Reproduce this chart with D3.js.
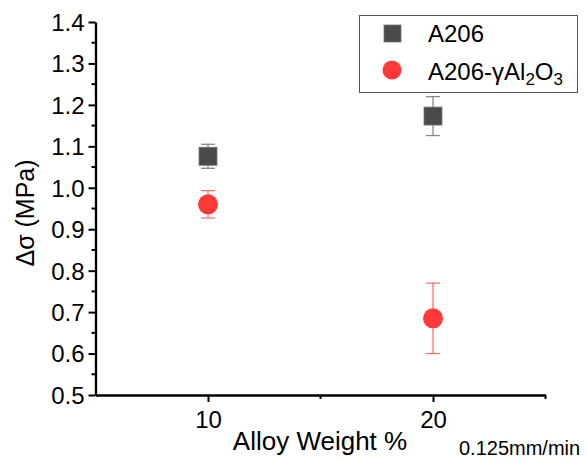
<!DOCTYPE html>
<html><head><meta charset="utf-8">
<script src="https://cdn.jsdelivr.net/npm/d3@7"></script>
<style>body{margin:0;background:#fff}svg{display:block;font-family:"Liberation Sans",Arial,sans-serif}</style>
</head><body><svg id="c" width="587" height="465"></svg>
<script>
const xValues = [10, 20];
const a206 = [1.076, 1.173];
const a206Err = [0.029, 0.047];
const a206Al = [0.960, 0.685];
const a206AlErr = [0.033, 0.085];
const yTicks = [0.5,0.6,0.7,0.8,0.9,1.0,1.1,1.2,1.3,1.4];
const xTicks = [10, 20];

const svg = d3.select("#c");
const x = d3.scaleLinear().domain([5,25]).range([95.5,545.5]);
const y = d3.scaleLinear().domain([0.5,1.4]).range([395,22]);

// y axis
const yAxis = d3.axisLeft(y).tickValues(yTicks).tickFormat(d3.format(".1f")).tickSize(7).tickSizeOuter(0);
const gy = svg.append("g").attr("transform","translate(95.5,0)").call(yAxis);
gy.select(".domain").attr("stroke","#000").attr("stroke-width",2.3);
gy.selectAll(".tick line").attr("stroke-width",2);
gy.selectAll(".tick text").attr("font-size",24).attr("fill","#000").attr("x",-11).attr("dy","0.35em");
const yMinor = d3.range(0.55,1.4,0.1);
svg.append("g").selectAll("line").data(yMinor).join("line")
  .attr("x1",91.5).attr("x2",95.5).attr("y1",d=>y(d)).attr("y2",d=>y(d))
  .attr("stroke","#000").attr("stroke-width",2);

// x axis
const xAxis = d3.axisBottom(x).tickValues(xTicks).tickFormat(d3.format("d")).tickSize(7).tickSizeOuter(0);
const gx = svg.append("g").attr("transform","translate(0,395)").call(xAxis);
gx.select(".domain").attr("stroke","#000").attr("stroke-width",2.3);
gx.selectAll(".tick line").attr("stroke-width",2);
gx.selectAll(".tick text").attr("font-size",24).attr("fill","#000").attr("y",10).attr("dy","0.95em");
svg.append("g").selectAll("line").data([15,25]).join("line")
  .attr("x1",d=>x(d)).attr("x2",d=>x(d)).attr("y1",395).attr("y2",399)
  .attr("stroke","#000").attr("stroke-width",2);

// labels
svg.append("text").attr("transform","translate(34,213) rotate(-90)").attr("text-anchor","middle")
  .attr("font-size",25).attr("fill","#000").text("Δσ (MPa)");
svg.append("text").attr("x",320).attr("y",450).attr("text-anchor","middle")
  .attr("font-size",26).attr("fill","#000").text("Alloy Weight %");
svg.append("text").attr("x",459).attr("y",455).attr("font-size",20).attr("fill","#000").text("0.125mm/min");

// error bars & markers
function errBars(vals, errs, color){
  const g = svg.append("g");
  xValues.forEach((xv,i)=>{
    const cx = x(xv), t = y(vals[i]+errs[i]), b = y(vals[i]-errs[i]);
    g.append("line").attr("x1",cx).attr("x2",cx).attr("y1",t).attr("y2",b).attr("stroke",color).attr("stroke-width",1.3);
    [t,b].forEach(yy=>g.append("line").attr("x1",cx-7).attr("x2",cx+7).attr("y1",yy).attr("y2",yy).attr("stroke",color).attr("stroke-width",1.3));
  });
}
errBars(a206, a206Err, "#888");
errBars(a206Al, a206AlErr, "#ff7070");

svg.append("g").selectAll("rect").data(xValues).join("rect")
  .attr("x",d=>x(d)-9).attr("y",(d,i)=>y(a206[i])-9).attr("width",18).attr("height",18)
  .attr("fill","#4a4a4a").attr("stroke","#777").attr("stroke-width",0.8);
svg.append("g").selectAll("circle").data(xValues).join("circle")
  .attr("cx",d=>x(d)).attr("cy",(d,i)=>y(a206Al[i])).attr("r",10)
  .attr("fill","#ff3838");

// legend
const lg = svg.append("g");
lg.append("rect").attr("x",359.5).attr("y",15.5).attr("width",218).attr("height",77)
  .attr("fill","#fff").attr("stroke","#555").attr("stroke-width",1);
lg.append("rect").attr("x",384).attr("y",25).attr("width",17).attr("height",17).attr("fill","#4a4a4a").attr("stroke","#777").attr("stroke-width",0.8);
lg.append("circle").attr("cx",392).attr("cy",70).attr("r",9.5).attr("fill","#ff3838");
lg.append("text").attr("x",428).attr("y",42).attr("font-size",24).attr("fill","#000").text("A206");
const t2 = lg.append("text").attr("x",428).attr("y",80).attr("font-size",24).attr("fill","#000");
t2.append("tspan").text("A206-γAl");
t2.append("tspan").attr("font-size",17).attr("dy",5).text("2");
t2.append("tspan").attr("dy",-5).text("O");
t2.append("tspan").attr("font-size",17).attr("dy",5).text("3");
</script></body></html>
